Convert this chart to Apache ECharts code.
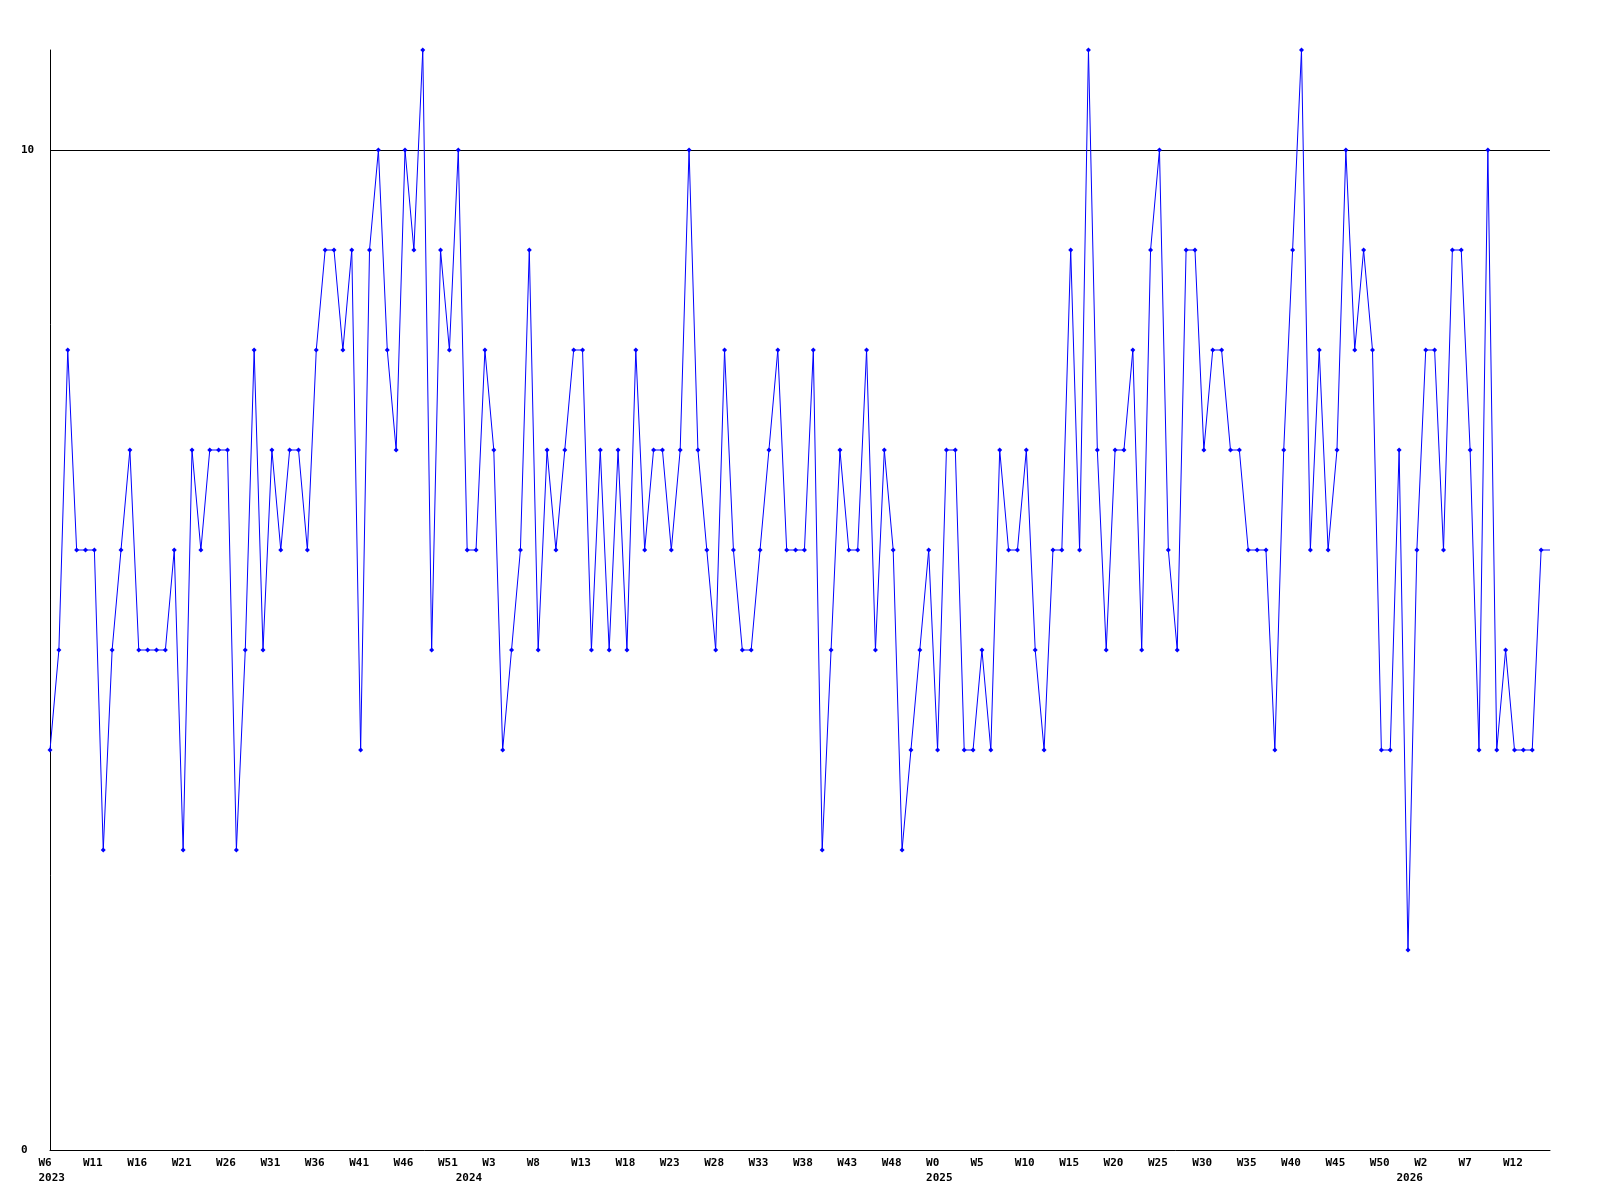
<!DOCTYPE html>
<html>
<head>
<meta charset="utf-8">
<script src="https://cdn.jsdelivr.net/npm/echarts@6/dist/echarts.min.js"></script>
<style>
  html, body { margin: 0; padding: 0; background: #ffffff; }
  #chart { width: 1600px; height: 1200px; }
</style>
</head>
<body>
<div id="chart"></div>
<script>
// Week ranges per year (category labels)
const years = [2023, 2024, 2025, 2026];
const firstWeek = [6, 0, 0, 0];
const lastWeek = [52, 52, 52, 16];

// Weekly values
const values = [
  4,5,8,6,6,6,3,5,6,7,5,5,5,5,6,3,7,6,7,7,7,3,5,8,5,
  7,6,7,7,6,8,9,9,8,9,4,9,10,8,7,10,9,11,5,9,8,10,6,6,8,
  7,4,5,6,9,5,7,6,7,8,8,5,7,5,7,5,8,6,7,7,6,7,10,7,6,
  5,8,6,5,5,6,7,8,6,6,6,8,3,5,7,6,6,8,5,7,6,3,4,5,6,
  4,7,7,4,4,5,4,7,6,6,7,5,4,6,6,9,6,11,7,5,7,7,8,5,9,
  10,6,5,9,9,7,8,8,7,7,6,6,6,4,7,9,11,6,8,6,7,10,8,9,8,
  4,4,7,2,6,8,8,6,9,9,7,4,10,4,5,4,4,4,6,6
];

const yTickLabels = [0, 10];
const refLineValue = 10;

// build categories
const categories = [];
const yearStartIdx = {};
years.forEach((y, k) => {
  yearStartIdx[categories.length] = String(y);
  for (let w = firstWeek[k]; w <= lastWeek[k]; w++) {
    categories.push(y + ' W' + w);
  }
});

const font = { fontFamily: 'DejaVu Sans Mono', fontWeight: 'bold', fontSize: 11, color: '#000000' };

const chart = echarts.init(document.getElementById('chart'), null, { renderer: 'canvas' });
chart.setOption({
  animation: false,
  backgroundColor: '#ffffff',
  grid: { left: 50, right: 50, top: 50, bottom: 50, containLabel: false },
  xAxis: [
    {
      type: 'category',
      data: categories,
      boundaryGap: false,
      position: 'bottom',
      axisLine: { show: true, lineStyle: { color: '#000000', width: 1 } },
      axisTick: { show: false },
      splitLine: { show: false },
      axisLabel: {
        interval: 4,
        margin: 8,
        formatter: function (v) { return '{w|' + v.split(' ')[1] + '}'; },
        rich: { w: Object.assign({ width: 23, align: 'left', lineHeight: 11 }, font) }
      }
    },
    {
      type: 'category',
      data: categories,
      boundaryGap: false,
      position: 'bottom',
      offset: 0,
      axisLine: { show: false },
      axisTick: { show: false },
      splitLine: { show: false },
      axisLabel: {
        interval: function (idx) { return yearStartIdx[idx] !== undefined; },
        margin: 23,
        formatter: function (v) { return '{w|' + v.split(' ')[0] + '}'; },
        rich: { w: Object.assign({ width: 23, align: 'left', lineHeight: 11 }, font) }
      }
    }
  ],
  yAxis: {
    type: 'value',
    min: 0,
    max: 11,
    interval: 10,
    axisLine: { show: true, lineStyle: { color: '#000000', width: 1 } },
    axisTick: { show: false },
    splitLine: { show: false },
    axisLabel: Object.assign({
      align: 'left',
      margin: 29,
      showMaxLabel: false,
      formatter: function (v) { return yTickLabels.indexOf(v) >= 0 ? String(v) : ''; }
    }, font)
  },
  series: [
    {
      type: 'line',
      data: values,
      xAxisIndex: 0,
      symbol: function (v, params) { return params.dataIndex === values.length - 1 ? 'none' : 'diamond'; },
      symbolSize: 5,
      showAllSymbol: true,
      lineStyle: { color: '#0000ff', width: 1 },
      itemStyle: { color: '#0000ff' },
      emphasis: { disabled: true },
      markLine: {
        silent: true,
        symbol: ['none', 'none'],
        label: { show: false },
        lineStyle: { color: '#000000', width: 1, type: 'solid' },
        data: [{ yAxis: refLineValue }],
        z: 1
      },
      z: 3
    }
  ]
});
</script>
</body>
</html>
